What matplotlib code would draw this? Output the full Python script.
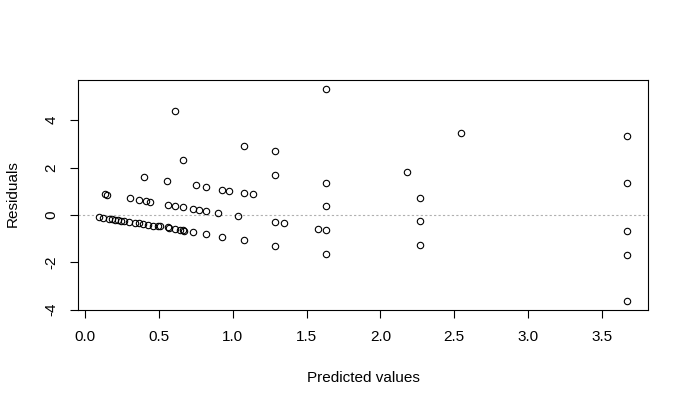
import matplotlib
matplotlib.use("Agg")
import matplotlib.pyplot as plt

predicted = [
    0.608, 1.074, 1.283, 0.662, 0.398, 0.554, 1.283, 0.750, 0.817, 0.923, 0.972,
    1.074, 1.134, 0.131, 0.149, 0.304, 0.365, 0.412, 0.441, 0.561, 0.608, 0.662,
    0.727, 0.770, 0.817, 0.898, 1.033, 1.283,
    0.095, 0.117, 0.162, 0.180, 0.203, 0.219, 0.239, 0.263, 0.297, 0.336, 0.365,
    0.390, 0.425, 0.459, 0.489, 0.509, 0.563, 0.568, 0.608, 0.641, 0.660, 0.669,
    0.727, 0.817, 0.923, 1.074, 1.283,
    1.634, 2.544, 2.179, 1.634, 2.269, 1.634, 2.269, 1.348, 1.574, 1.634, 2.269, 1.634,
    3.669, 3.669, 3.669, 3.669, 3.669,
]
residuals = [
    4.37, 2.90, 2.69, 2.31, 1.60, 1.43, 1.68, 1.26, 1.18, 1.05, 1.02,
    0.92, 0.88, 0.88, 0.84, 0.71, 0.63, 0.59, 0.55, 0.42, 0.38, 0.34,
    0.25, 0.21, 0.17, 0.08, -0.04, -0.29,
    -0.08, -0.13, -0.16, -0.17, -0.20, -0.21, -0.24, -0.25, -0.29, -0.34, -0.35,
    -0.37, -0.41, -0.45, -0.46, -0.48, -0.53, -0.55, -0.58, -0.62, -0.66, -0.67,
    -0.71, -0.80, -0.92, -1.05, -1.30,
    5.34, 3.44, 1.81, 1.34, 0.71, 0.38, -0.25, -0.34, -0.59, -0.63, -1.26, -1.64,
    3.32, 1.34, -0.67, -1.68, -3.66,
]
xticks = [0.0, 0.5, 1.0, 1.5, 2.0, 2.5, 3.0, 3.5]
xticklabels = ["0.0", "0.5", "1.0", "1.5", "2.0", "2.5", "3.0", "3.5"]
yticks = [-4, -2, 0, 2, 4]
yticklabels = ["-4", "-2", "0", "2", "4"]

plt.rcParams['font.family'] = ['Liberation Sans', 'DejaVu Sans']

W, H = 689, 408
fig = plt.figure(figsize=(W / 100, H / 100), dpi=100)
ax = fig.add_axes([78.3 / W, 1 - 310 / H, (647.7 - 78.3) / W, (310 - 80) / H])

ax.plot(predicted, residuals, linestyle='none', marker='o', markersize=4.6,
        markerfacecolor='none', markeredgecolor='black', markeredgewidth=0.8)
ax.axhline(0, color='#b0b0b0', linestyle=(0, (2, 2)), linewidth=0.8, zorder=0)

xr = max(predicted) - min(predicted)
yr = max(residuals) - min(residuals)
ax.set_xlim(min(predicted) - 0.04 * xr, max(predicted) + 0.04 * xr)
ax.set_ylim(min(residuals) - 0.04 * yr, max(residuals) + 0.04 * yr)

ax.set_xticks(xticks)
ax.set_xticklabels(xticklabels)
ax.set_yticks(yticks)
ax.set_yticklabels(yticklabels, rotation=90, va='center')
ax.tick_params(direction='out', length=5.8, width=0.8, labelsize=11, pad=8.4, colors='black')
for s in ax.spines.values():
    s.set_linewidth(0.8)

ax.set_xlabel("Predicted values", fontsize=11)
ax.set_ylabel("Residuals", fontsize=11)
ax.xaxis.set_label_coords(363 / W, 1 - 378.5 / H, transform=fig.transFigure)
ax.xaxis.label.set_va('center')
ax.yaxis.set_label_coords(12.5 / W, 1 - 194 / H, transform=fig.transFigure)
ax.yaxis.label.set_va('center')

fig.savefig("out.png", dpi=100)
